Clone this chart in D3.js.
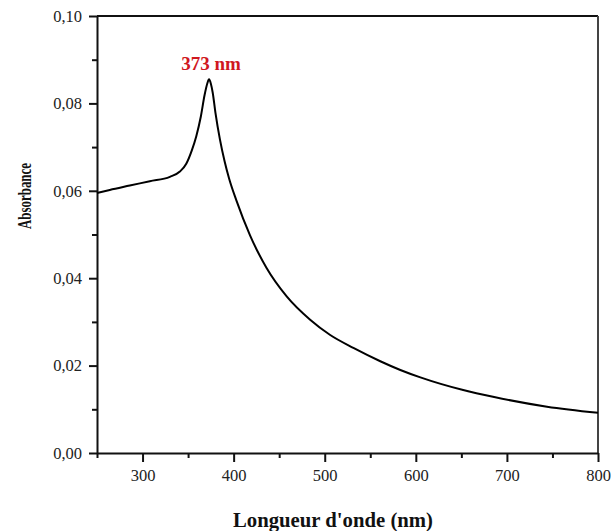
<!DOCTYPE html>
<html>
<head>
<meta charset="utf-8">
<script src="https://cdn.jsdelivr.net/npm/d3@7"></script>
<style>
  body { margin: 0; background: #fff; }
  svg { display: block; }
  svg text { font-family: 'Liberation Serif', 'Times New Roman', serif; }
</style>
</head>
<body>
<div id="chart"></div>
<script>
// wavelength (nm) and absorbance
var wavelength = [250, 264, 286, 308, 330, 341, 348, 354, 359, 364, 368, 371, 373, 375, 377, 380, 385, 390, 395, 403, 418, 436, 458, 484, 506, 532, 561, 583, 605, 652, 686, 744, 800];
var absorbance = [0.0595, 0.0602, 0.0612, 0.0622, 0.0632, 0.0644, 0.0662, 0.0692, 0.0725, 0.0770, 0.0818, 0.0845, 0.0855, 0.0845, 0.0825, 0.0779, 0.0717, 0.0668, 0.0628, 0.0578, 0.0498, 0.0424, 0.0359, 0.0305, 0.0270, 0.0240, 0.0210, 0.0190, 0.0173, 0.0144, 0.0128, 0.0106, 0.0092];
var xTicks = [300, 400, 500, 600, 700, 800];
var xMinor = [250, 350, 450, 550, 650, 750];
var yTicks = [0, 0.02, 0.04, 0.06, 0.08, 0.10];
var yMinor = [0.01, 0.03, 0.05, 0.07, 0.09];
var peakLabel = "373 nm";
var peakAt = 373;

var attrs = {
  svgWidth: 612,
  svgHeight: 531,
  marginTop: 16,
  marginLeft: 97,
  marginRight: 14,
  marginBottom: 78
};

var calc = {};
calc.chartWidth = attrs.svgWidth - attrs.marginLeft - attrs.marginRight;
calc.chartHeight = attrs.svgHeight - attrs.marginTop - attrs.marginBottom;

var data = wavelength.map((w, i) => ({ x: w, y: absorbance[i] }));

var comma = d3.formatLocale({ decimal: ",", thousands: ".", grouping: [3], currency: ["", ""] });

var xScale = d3.scaleLinear().domain([250, 800]).range([0, calc.chartWidth]);
var yScale = d3.scaleLinear().domain([0, 0.10]).range([calc.chartHeight, 0]);

var svg = d3.select('#chart').append('svg')
  .attr('width', attrs.svgWidth)
  .attr('height', attrs.svgHeight);

var chart = svg.append('g')
  .attr('transform', 'translate(' + attrs.marginLeft + ',' + attrs.marginTop + ')');

// frame (top and right)
chart.append('line')
  .attr('x1', 0).attr('x2', calc.chartWidth)
  .attr('y1', 0).attr('y2', 0)
  .attr('stroke', '#111').attr('stroke-width', 2);
chart.append('line')
  .attr('x1', calc.chartWidth).attr('x2', calc.chartWidth)
  .attr('y1', 0).attr('y2', calc.chartHeight)
  .attr('stroke', '#444').attr('stroke-width', 2);

// minor ticks
chart.append('g')
  .attr('transform', 'translate(0,' + calc.chartHeight + ')')
  .call(d3.axisBottom(xScale).tickValues(xMinor).tickSize(5).tickFormat(''))
  .call(g => g.select('.domain').remove());
chart.append('g')
  .call(d3.axisLeft(yScale).tickValues(yMinor).tickSize(5).tickFormat(''))
  .call(g => g.select('.domain').remove());

// major axes
chart.append('g')
  .attr('transform', 'translate(0,' + calc.chartHeight + ')')
  .call(d3.axisBottom(xScale).tickValues(xTicks).tickSize(9).tickSizeOuter(0).tickPadding(7));
chart.append('g')
  .call(d3.axisLeft(yScale).tickValues(yTicks).tickSize(8).tickSizeOuter(0).tickPadding(7)
    .tickFormat(comma.format('.2f')));

chart.selectAll('g').attr('font-family', null);
chart.selectAll('.tick line').attr('stroke', '#111').attr('stroke-width', 2);
chart.selectAll('.domain').attr('stroke', '#111').attr('stroke-width', 2);
chart.selectAll('.tick text')
  .attr('font-size', 16.5)
  .attr('fill', '#222');

// spectrum
var line = d3.line()
  .curve(d3.curveMonotoneX)
  .x(d => xScale(d.x))
  .y(d => yScale(d.y));

chart.append('path')
  .datum(data)
  .attr('fill', 'none')
  .attr('stroke', '#000')
  .attr('stroke-width', 2)
  .attr('stroke-linejoin', 'round')
  .attr('d', line);

// peak annotation
var peakValue = absorbance[wavelength.indexOf(peakAt)];
chart.append('text')
  .attr('x', xScale(peakAt) + 2)
  .attr('y', yScale(peakValue) - 9)
  .attr('text-anchor', 'middle')
  .attr('font-weight', 'bold')
  .attr('font-size', 19)
  .attr('fill', '#d0181f')
  .text(peakLabel);

// axis titles
svg.append('text')
  .attr('x', 333)
  .attr('y', 527)
  .attr('text-anchor', 'middle')
  .attr('font-weight', 'bold')
  .attr('font-size', 20)
  .attr('textLength', 200)
  .attr('lengthAdjust', 'spacingAndGlyphs')
  .attr('fill', '#111')
  .text("Longueur d'onde (nm)");

svg.append('text')
  .attr('transform', 'translate(31,196) rotate(-90)')
  .attr('text-anchor', 'middle')
  .attr('font-weight', 'bold')
  .attr('font-size', 18)
  .attr('textLength', 66)
  .attr('lengthAdjust', 'spacingAndGlyphs')
  .attr('fill', '#111')
  .text("Absorbance");
</script>
</body>
</html>
